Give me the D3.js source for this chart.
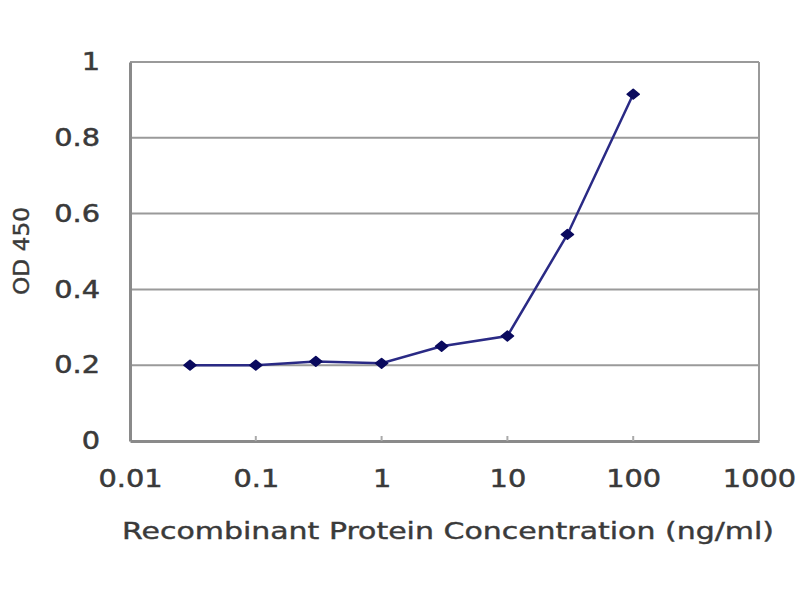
<!DOCTYPE html>
<html><head><meta charset="utf-8">
<script src="https://cdn.jsdelivr.net/npm/d3@7"></script>
<style>body{margin:0;background:#fff}svg{display:block}</style>
</head><body>
<script>
const concentrations = [0.03, 0.1, 0.3, 1, 3, 10, 30, 100];
const odValues = [0.200, 0.200, 0.210, 0.205, 0.250, 0.277, 0.545, 0.915];
const xTicks = [0.01, 0.1, 1, 10, 100, 1000];
const xTickLabels = ["0.01", "0.1", "1", "10", "100", "1000"];
const yTicks = [0, 0.2, 0.4, 0.6, 0.8, 1];
const yTickLabels = ["0", "0.2", "0.4", "0.6", "0.8", "1"];
const xTitle = "Recombinant Protein Concentration (ng/ml)";
const yTitle = "OD 450";

const W = 800, H = 600;
const m = {left: 130, right: 41, top: 62, bottom: 159};
const svg = d3.select("body").append("svg").attr("width", W).attr("height", H);
const x = d3.scaleLog().domain([0.01, 1000]).range([m.left, W - m.right]);
const y = d3.scaleLinear().domain([0, 1]).range([H - m.bottom, m.top]);
const font = "DejaVu Sans, Verdana, sans-serif";
const txt = "#3a3a3a";

function stretch(sel, f) {
  sel.each(function () {
    const L = this.getComputedTextLength();
    d3.select(this).attr("textLength", L * f).attr("lengthAdjust", "spacingAndGlyphs");
  });
}

// gridlines
svg.append("g").selectAll("line").data(yTicks.filter(d => d > 0)).join("line")
  .attr("x1", m.left).attr("x2", W - m.right)
  .attr("y1", d => y(d)).attr("y2", d => y(d))
  .attr("stroke", "#9a9a9a").attr("stroke-width", 2);
// right border
svg.append("line").attr("x1", W - m.right).attr("x2", W - m.right)
  .attr("y1", y(1)).attr("y2", y(0)).attr("stroke", "#9a9a9a").attr("stroke-width", 2);

// axes
const xAxis = d3.axisBottom(x).tickValues(xTicks).tickFormat((d, i) => xTickLabels[i]).tickSize(0).tickPadding(0);
const gx = svg.append("g").attr("transform", `translate(0,${y(0)})`).call(xAxis);
gx.select(".domain").attr("stroke", "#8a8a8a").attr("stroke-width", 3);
gx.selectAll("text").attr("y", 38).attr("dy", "0.35em").attr("font-family", font)
  .attr("font-size", 24).attr("fill", txt).attr("stroke", txt).attr("stroke-width", 0.5);
stretch(gx.selectAll("text"), 1.2);
// small inward tick marks on x axis
svg.append("g").selectAll("line").data(xTicks.slice(1, -1)).join("line")
  .attr("x1", d => x(d)).attr("x2", d => x(d))
  .attr("y1", y(0)).attr("y2", y(0) - 5).attr("stroke", "#aaa").attr("stroke-width", 2);

const yAxis = d3.axisLeft(y).tickValues(yTicks).tickFormat((d, i) => yTickLabels[i]).tickSize(0).tickPadding(0);
const gy = svg.append("g").attr("transform", `translate(${m.left},0)`).call(yAxis);
gy.select(".domain").attr("stroke", "#8a8a8a").attr("stroke-width", 3);
gy.selectAll("text").attr("x", -30).attr("font-family", font)
  .attr("font-size", 24).attr("fill", txt).attr("stroke", txt).attr("stroke-width", 0.5);
stretch(gy.selectAll("text"), 1.2);

// line + markers
const line = d3.line().x((d, i) => x(concentrations[i])).y(d => y(d));
svg.append("path").datum(odValues).attr("d", line)
  .attr("fill", "none").attr("stroke", "#2a2a85").attr("stroke-width", 2.5);
const sym = d3.symbol().type(d3.symbolSquare).size(60);
svg.append("g").selectAll("path").data(odValues).join("path")
  .attr("transform", (d, i) => `translate(${x(concentrations[i])},${y(d)}) scale(1.1,0.9) rotate(45)`)
  .attr("d", sym).attr("fill", "#0a0a5e").attr("stroke", "#0a0a5e").attr("stroke-width", 1.5)
  .attr("stroke-linejoin", "round");

// titles
svg.append("text").attr("x", 448).attr("y", 531).attr("dy", "0.35em")
  .attr("text-anchor", "middle").attr("font-family", font).attr("font-size", 23)
  .attr("textLength", 652).attr("lengthAdjust", "spacingAndGlyphs")
  .attr("fill", txt).attr("stroke", txt).attr("stroke-width", 0.4).text(xTitle);
svg.append("text").attr("transform", "translate(21,251) rotate(-90)").attr("dy", "0.35em")
  .attr("text-anchor", "middle").attr("font-family", font).attr("font-size", 22)
  .attr("textLength", 88).attr("lengthAdjust", "spacingAndGlyphs")
  .attr("fill", txt).attr("stroke", txt).attr("stroke-width", 0.4).text(yTitle);
</script>
</body></html>
